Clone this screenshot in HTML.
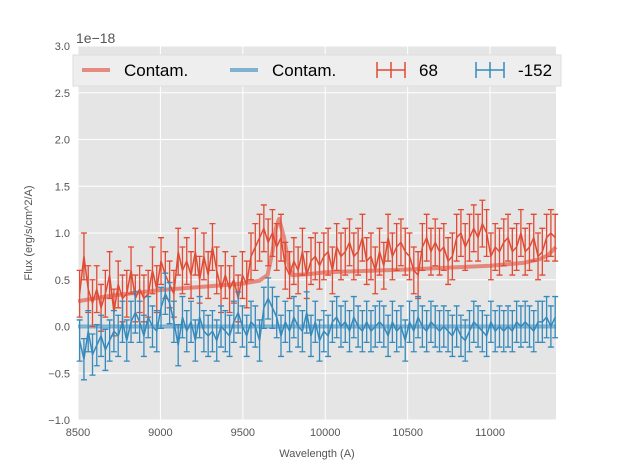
<!DOCTYPE html>
<html><head><meta charset="utf-8"><style>
body{margin:0;background:#fff;font-family:"Liberation Sans",sans-serif;}
svg text{font-family:"Liberation Sans",sans-serif;}
</style></head><body>
<svg id="chart" width="617" height="467" xmlns="http://www.w3.org/2000/svg">
<rect x="78" y="46" width="478" height="374" fill="#e5e5e5"/>
<g id="grid"></g><g id="marks"></g><g id="axes"></g>
<text x="76" y="43" font-size="14" fill="#555">1e−18</text>
<text x="317" y="457" font-size="11" fill="#555" text-anchor="middle">Wavelength (A)</text>
<text transform="translate(32,233) rotate(-90)" font-size="11" fill="#555" text-anchor="middle">Flux (erg/s/cm^2/A)</text>
<g>
<rect x="73" y="55" width="488" height="31" fill="#eeeeee" stroke="#dddddd"/>
<line x1="82" y1="70" x2="110" y2="70" stroke="#E24A33" stroke-opacity="0.6" stroke-width="4"/>
<text x="124" y="76" font-size="17" fill="#000">Contam.</text>
<line x1="230" y1="70" x2="258" y2="70" stroke="#348ABD" stroke-opacity="0.6" stroke-width="4"/>
<text x="272" y="76" font-size="17" fill="#000">Contam.</text>
<g stroke="#E24A33" stroke-width="1.5"><line x1="377" y1="70" x2="405" y2="70"/><line x1="391" y1="62" x2="391" y2="78"/><line x1="377" y1="62" x2="377" y2="78"/><line x1="405" y1="62" x2="405" y2="78"/></g>
<text x="419" y="76" font-size="17" fill="#000">68</text>
<g stroke="#348ABD" stroke-width="1.5"><line x1="476" y1="70" x2="504" y2="70"/><line x1="490" y1="62" x2="490" y2="78"/><line x1="476" y1="62" x2="476" y2="78"/><line x1="504" y1="62" x2="504" y2="78"/></g>
<text x="518" y="76" font-size="17" fill="#000">-152</text>
</g>
</svg>
<script>
const xTicks=[8500,9000,9500,10000,10500,11000];
const xTickLabels=["8500","9000","9500","10000","10500","11000"];
const yTicks=[-1,-0.5,0,0.5,1,1.5,2,2.5,3];
const yTickLabels=["−1.0","−0.5","0.0","0.5","1.0","1.5","2.0","2.5","3.0"];
const redFlux=[0.35,0.75,0.4,0.25,0.4,0.2,0.35,0.55,0.15,0.45,0.3,0.35,0.6,0.3,0.4,0.3,0.35,0.6,0.4,0.7,0.55,0.45,0.35,0.8,0.6,0.7,0.55,0.8,0.5,0.75,0.55,0.85,0.6,0.4,0.55,0.4,0.5,0.3,0.55,0.45,0.75,0.85,0.95,1.05,0.9,1.0,0.85,0.95,0.65,0.55,0.7,0.6,0.8,0.55,0.7,0.75,0.65,0.75,0.8,0.6,0.85,0.75,0.8,0.9,0.75,0.8,0.95,0.7,0.75,0.6,0.8,0.65,0.95,0.75,0.85,0.9,0.8,0.75,0.6,0.55,0.85,0.95,0.8,0.9,0.8,0.85,0.7,0.75,0.95,1.0,0.85,0.95,1.05,0.95,1.1,1.0,0.75,0.85,0.8,0.9,0.95,0.8,0.85,1.0,0.8,0.85,0.95,0.75,0.8,0.95,1.0,0.95];
const blueFlux=[-0.15,-0.35,-0.05,-0.3,-0.2,-0.1,-0.25,-0.15,-0.05,-0.1,0.05,-0.15,0.05,0.15,0.05,-0.1,0.1,0.0,-0.05,0.2,0.35,0.25,0.05,-0.2,0.1,-0.05,0.05,-0.15,0.1,-0.05,-0.1,-0.05,-0.15,0.0,-0.05,-0.1,0.05,0.15,0.0,-0.1,0.05,0.0,-0.15,0.2,0.3,0.2,0.1,-0.1,0.05,-0.05,0.1,0.0,-0.05,0.15,-0.1,0.05,-0.15,-0.05,-0.1,0.05,0.1,0.0,0.05,-0.05,0.1,0.0,-0.05,0.05,-0.05,0.0,0.05,0.0,-0.1,0.05,-0.05,0.0,-0.15,0.05,-0.05,0.1,0.0,-0.05,0.05,0.0,-0.05,0.0,-0.05,-0.1,0.0,-0.1,-0.15,-0.05,0.05,0.0,-0.05,-0.1,0.05,-0.05,0.0,-0.05,0.0,-0.05,0.05,0.0,0.05,0.0,-0.05,0.05,0.05,0.1,0.0,0.1];
const redErr=0.25;
const blueErr=0.22;
const contamRedX=[8500,8700,9000,9300,9500,9600,9650,9680,9700,9720,9750,9780,9800,9900,10000,10500,11000,11200,11300,11350,11400];
const contamRedY=[0.27,0.33,0.39,0.43,0.46,0.49,0.55,0.8,1.05,1.15,0.95,0.65,0.55,0.56,0.58,0.61,0.65,0.68,0.72,0.76,0.85];
const contamBlueX=[8500,11400];
const contamBlueY=[0.0,0.0];
const xFirst=8510, xLast=11395;

const NS="http://www.w3.org/2000/svg";
const X=v=>78+(v-8500)*(478/2900);
const Y=v=>326.5-v*93.5;
function mk(tag,attrs,parent){const e=document.createElementNS(NS,tag);for(const k in attrs)e.setAttribute(k,attrs[k]);document.getElementById(parent).appendChild(e);return e;}
xTicks.forEach((t,i)=>{
 let g=mk('line',{x1:X(t),x2:X(t),y1:46,y2:420,stroke:'#fff','stroke-width':1},'grid');
 
 
 let tx=mk('text',{x:X(t),y:436,'font-size':11,fill:'#555','text-anchor':'middle'},'axes');
 tx.textContent=xTickLabels[i];
 
 
});
yTicks.forEach((t,i)=>{
 let g=mk('line',{x1:78,x2:556,y1:Y(t),y2:Y(t),stroke:'#fff','stroke-width':1},'grid');
 
 
 let tx=mk('text',{x:70,y:Y(t)+4,'font-size':11,fill:'#555','text-anchor':'end'},'axes');
 tx.textContent=yTickLabels[i];
 
 
});
function contam(xs,ys,color,name){
 const p=mk('polyline',{points:xs.map((x,i)=>X(x)+','+Y(ys[i])).join(' '),fill:'none',stroke:color,'stroke-opacity':0.6,'stroke-width':4,'stroke-linejoin':'round'},'marks');
 
 
}
function series(vals,err,color,name){
 const step=(xLast-xFirst)/(vals.length-1);
 vals.forEach((v,i)=>{
  const x=X(xFirst+i*step);
  const e=mk('path',{d:`M${x},${Y(v-err)}V${Y(v+err)}M${x-3},${Y(v-err)}H${x+3}M${x-3},${Y(v+err)}H${x+3}`,stroke:color,'stroke-width':1.3,fill:'none'},'marks');
  
  
 });
 const p=mk('polyline',{points:vals.map((v,i)=>X(xFirst+i*step)+','+Y(v)).join(' '),fill:'none',stroke:color,'stroke-width':1.5},'marks');
 
 
}
contam(contamRedX,contamRedY,'#E24A33','contam-red-line');
contam(contamBlueX,contamBlueY,'#348ABD','contam-blue-line');
series(redFlux,redErr,'#E24A33','series-68');
series(blueFlux,blueErr,'#348ABD','series-152');
</script>
</body></html>
